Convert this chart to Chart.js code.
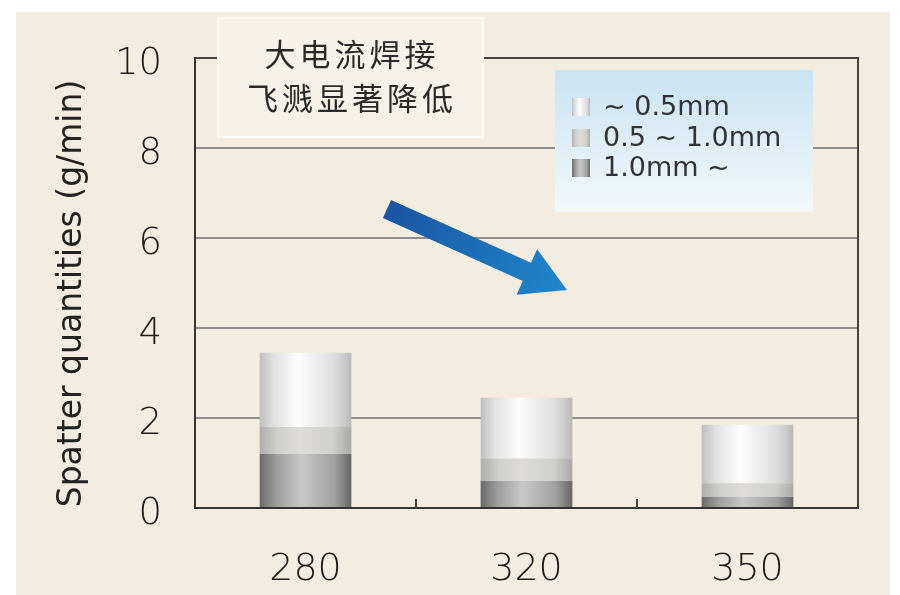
<!DOCTYPE html>
<html lang="zh">
<head>
<meta charset="UTF-8">
<title>Spatter quantities</title>
<script src="https://cdn.jsdelivr.net/npm/chart.js"></script>
<style>
  html, body { margin: 0; padding: 0; background: #fff; }
  #wrap { width: 900px; height: 595px; }
</style>
</head>
<body>
<div id="wrap"><canvas id="spatterChart"></canvas></div>
<script>
// 焊接电流 (A)
const currents = ['280', '320', '350'];
// 各粒径飞溅量 (g/min)，自下而上堆叠
const over10 = [1.2, 0.6, 0.25];      // 1.0mm ~
const from05to10 = [0.6, 0.5, 0.3];   // 0.5 ~ 1.0mm
const under05 = [1.65, 1.35, 1.3];    // ~ 0.5mm
const sizeLabels = ['1.0mm ~', '0.5 ~ 1.0mm', '~ 0.5mm'];
const yTicks = [0, 2, 4, 6, 8, 10];
const noteLines = ['大电流焊接', '飞溅显著降低'];
const yTitle = 'Spatter quantities (g/min)  ';

const FONT = '"DejaVu Sans", sans-serif';
const BAR_PCT = 0.415;

// 圆柱感的横向渐变
const shades = [
  [[0, '#6a6a6a'], [0.18, '#9c9c9c'], [0.45, '#c8c8c8'], [0.82, '#a0a0a0'], [1, '#666666']],
  [[0, '#aeaeac'], [0.2, '#cfcfcb'], [0.45, '#dddcd8'], [0.8, '#cfcfcb'], [1, '#a9a9a7']],
  [[0, '#bebebe'], [0.15, '#e0e0e0'], [0.42, '#fdfdfd'], [0.8, '#dedede'], [0.92, '#cbcbcb'], [1, '#b8b8b8']]
];

function barFill(idx) {
  return function (ctx) {
    const chart = ctx.chart;
    const xs = chart.scales.x;
    if (!chart.chartArea || !xs || ctx.type !== 'data') return shades[idx][2][1];
    const cx = xs.getPixelForValue(ctx.dataIndex);
    const w = xs.width / currents.length * BAR_PCT;
    const g = chart.ctx.createLinearGradient(cx - w / 2, 0, cx + w / 2, 0);
    shades[idx].forEach(s => g.addColorStop(s[0], s[1]));
    return g;
  };
}

function swatch(c, idx, x, y, w, h) {
  const g = c.createLinearGradient(x, 0, x + w, 0);
  shades[idx].forEach(s => g.addColorStop(s[0], s[1]));
  c.fillStyle = g;
  c.fillRect(x, y, w, h);
}

// 背景、边框、标注框、图例和箭头
const decor = {
  id: 'decor',
  beforeDraw(chart) {
    const c = chart.ctx;
    c.save();
    c.fillStyle = '#f3ece0';
    c.fillRect(16, 12, 874, 583);
    c.restore();
  },
  afterDraw(chart) {
    const c = chart.ctx;
    const a = chart.chartArea;
    const xs = chart.scales.x;
    c.save();

    // 右边框和类别分隔刻度
    c.strokeStyle = '#444';
    c.lineWidth = 2;
    c.beginPath();
    c.moveTo(a.right, a.top - 1);
    c.lineTo(a.right, a.bottom + 1);
    c.stroke();
    const step = xs.width / currents.length;
    for (let i = 1; i < currents.length; i++) {
      const x = Math.round(a.left + step * i);
      c.beginPath();
      c.moveTo(x, a.bottom);
      c.lineTo(x, a.bottom - 9);
      c.stroke();
    }

    // 标注框
    c.fillStyle = '#f7f2e9';
    c.fillRect(218, 18, 265, 119);
    c.strokeStyle = '#fdfbf6';
    c.lineWidth = 2;
    c.strokeRect(218, 18, 265, 119);
    c.fillStyle = '#2a2a2a';
    c.font = '31px "Noto Sans CJK SC", sans-serif';
    c.textAlign = 'center';
    c.textBaseline = 'middle';
    c.letterSpacing = '4px';
    c.fillText(noteLines[0], 352, 54);
    c.fillText(noteLines[1], 352, 98);
    c.letterSpacing = '0px';

    // 图例
    const lg = c.createLinearGradient(0, 70, 0, 212);
    lg.addColorStop(0, '#c8e3f3');
    lg.addColorStop(1, '#f3f8fa');
    c.fillStyle = lg;
    c.fillRect(555, 70, 258, 142);
    const rows = [107, 138, 168];
    c.font = '27px ' + FONT;
    c.textAlign = 'left';
    for (let r = 0; r < 3; r++) {
      const idx = 2 - r;
      swatch(c, idx, 572, rows[r] - 9, 18, 18);
      c.fillStyle = '#333';
      c.fillText(sizeLabels[idx], 603, rows[r] + 1);
    }

    // 下降箭头
    const tail = [387, 209], tip = [567, 290];
    const dx = tip[0] - tail[0], dy = tip[1] - tail[1];
    const len = Math.hypot(dx, dy);
    const ux = dx / len, uy = dy / len, nx = -uy, ny = ux;
    const sw = 10, hw = 25, hl = 44;
    const bx = tip[0] - ux * hl, by = tip[1] - uy * hl;
    const ag = c.createLinearGradient(tail[0], tail[1], tip[0], tip[1]);
    ag.addColorStop(0, '#1a55a3');
    ag.addColorStop(1, '#1f88cb');
    c.fillStyle = ag;
    c.beginPath();
    c.moveTo(tail[0] + nx * sw, tail[1] + ny * sw);
    c.lineTo(bx + nx * sw, by + ny * sw);
    c.lineTo(bx + nx * hw, by + ny * hw);
    c.lineTo(tip[0], tip[1]);
    c.lineTo(bx - nx * hw, by - ny * hw);
    c.lineTo(bx - nx * sw, by - ny * sw);
    c.lineTo(tail[0] - nx * sw, tail[1] - ny * sw);
    c.closePath();
    c.fill();

    c.restore();
  }
};

const datasets = [over10, from05to10, under05].map((vals, i) => ({
  label: sizeLabels[i],
  data: vals,
  backgroundColor: barFill(i),
  borderWidth: 0,
  barPercentage: BAR_PCT,
  categoryPercentage: 1.0
}));

new Chart(document.getElementById('spatterChart'), {
  type: 'bar',
  data: { labels: currents, datasets: datasets },
  options: {
    responsive: true,
    maintainAspectRatio: false,
    animation: false,
    layout: { padding: { left: 0, top: 58, right: 42, bottom: 0 } },
    plugins: { legend: { display: false }, tooltip: { enabled: false } },
    scales: {
      x: {
        stacked: true,
        grid: { display: false },
        border: { color: '#333', width: 2 },
        ticks: { color: '#1e1e1e', padding: 31, font: { family: FONT, size: 38, weight: 200 } },
        afterFit(scale) { scale.height = 87; }
      },
      y: {
        stacked: true,
        min: 0,
        max: 10,
        afterBuildTicks(scale) { scale.ticks = yTicks.map(v => ({ value: v })); },
        grid: {
          drawTicks: false,
          lineWidth: 2,
          color: ctx => (ctx.tick && (ctx.tick.value === 0 || ctx.tick.value === 10)) ? '#444' : '#8e8e8e'
        },
        border: { color: '#333', width: 2 },
        ticks: { color: '#1e1e1e', padding: 33, labelOffset: 6, font: { family: FONT, size: 37, weight: 200 } },
        title: {
          display: true,
          text: yTitle,
          color: '#222',
          font: { family: FONT, size: 33 },
          padding: { top: 53, bottom: 0 }
        },
        afterFit(scale) { scale.width = 195; }
      }
    }
  },
  plugins: [decor]
});
</script>
</body>
</html>
